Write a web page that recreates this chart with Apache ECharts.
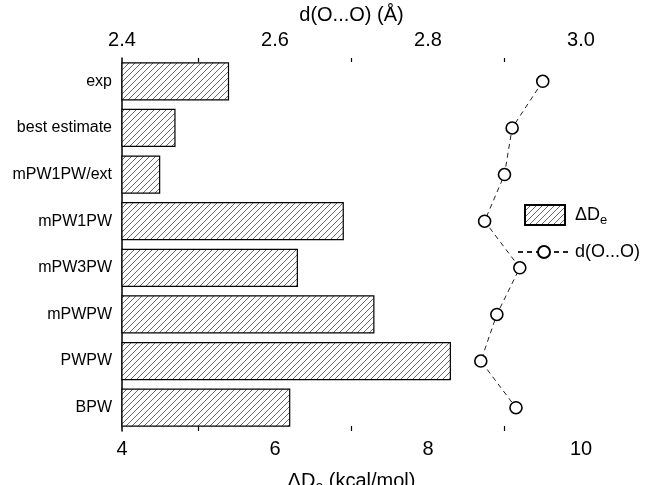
<!DOCTYPE html>
<html>
<head>
<meta charset="utf-8">
<script src="https://cdn.jsdelivr.net/npm/echarts@6/dist/echarts.min.js"></script>
<style>html,body{margin:0;padding:0;background:#fff}#c{width:647px;height:485px}</style>
</head>
<body>
<div id="c"></div>
<script>
var categories = ['exp', 'best estimate', 'mPW1PW/ext', 'mPW1PW', 'mPW3PW', 'mPWPW', 'PWPW', 'BPW'];
var deltaDe = [5.4, 4.7, 4.5, 6.9, 6.3, 7.3, 8.3, 6.2];
var dOO = [2.95, 2.91, 2.90, 2.874, 2.92, 2.89, 2.869, 2.915];
var bottomTicks = [4, 6, 8, 10];
var topTicks = [2.4, 2.6, 2.8, 3.0];
var seriesNames = ['ΔDe', 'd(O...O)'];

var FONT = 'Liberation Sans, Arial, Helvetica, sans-serif';

var pat = document.createElement('canvas');
pat.width = 6; pat.height = 6;
var g = pat.getContext('2d');
g.fillStyle = '#fff'; g.fillRect(0, 0, 6, 6);
g.strokeStyle = '#444'; g.lineWidth = 0.8;
g.beginPath();
g.moveTo(-1, 7); g.lineTo(7, -1);
g.moveTo(-1, 1); g.lineTo(1, -1);
g.moveTo(5, 7); g.lineTo(7, 5);
g.stroke();

var legendText = {fontFamily: FONT, fontSize: 18, color: '#000',
  rich: {a: {fontSize: 18, fontFamily: FONT}, p: {fontSize: 18, fontFamily: FONT, padding: [0, 0, 0, 5]},
         s: {fontSize: 13, fontFamily: FONT, padding: [10, 0, 0, 0]}}};
function legendFmt(n) { return n === seriesNames[0] ? '{p|ΔD}{s|e}' : '{a|d(O...O)}'; }

var chart = echarts.init(document.getElementById('c'), null, {renderer: 'canvas'});
var option = {
  animation: false,
  backgroundColor: '#fff',
  textStyle: {fontFamily: FONT, color: '#000'},
  grid: {left: 122, right: 66, top: 58, bottom: 54, containLabel: false, outerBoundsMode: 'none'},
  legend: [
    {
      orient: 'vertical', left: 519, top: 199,
      itemWidth: 40, itemHeight: 20,
      data: [{name: seriesNames[0], icon: 'rect'}],
      textStyle: legendText, formatter: legendFmt
    },
    {
      orient: 'vertical', left: 512, top: 238,
      itemWidth: 52, itemHeight: 15,
      data: [seriesNames[1]],
      textStyle: legendText, formatter: legendFmt
    }
  ],
  xAxis: [
    {
      type: 'value', position: 'bottom', min: 4, max: 10, interval: 2,
      name: '{a|ΔD}{s|e}{a| (kcal/mol)}', nameLocation: 'middle', nameGap: 37,
      nameTextStyle: {fontFamily: FONT, fontSize: 20, color: '#000',
        rich: {a: {fontSize: 20, fontFamily: FONT}, s: {fontSize: 14, fontFamily: FONT, padding: [12, 0, 0, 0]}}},
      axisLine: {lineStyle: {color: '#000', width: 1.5}},
      axisTick: {inside: true, length: 6, lineStyle: {color: '#000', width: 1.2}},
      minorTick: {show: true, splitNumber: 2, length: 5, lineStyle: {color: '#000', width: 1.2}},
      axisLabel: {fontSize: 20, color: '#000', margin: 8, fontFamily: FONT,
        formatter: function (v) { return bottomTicks.indexOf(v) >= 0 ? String(v) : ''; }},
      splitLine: {show: false}
    },
    {
      type: 'value', position: 'top', min: 2.4, max: 3.0, interval: 0.2,
      name: 'd(O...O) (Å)', nameLocation: 'middle', nameGap: 29,
      nameTextStyle: {fontFamily: FONT, fontSize: 20, color: '#000'},
      axisLine: {lineStyle: {color: '#000', width: 1.5}},
      axisTick: {inside: true, length: 7, lineStyle: {color: '#000', width: 1.2}},
      minorTick: {show: true, splitNumber: 2, length: 4, lineStyle: {color: '#000', width: 1.2}},
      axisLabel: {fontSize: 20, color: '#000', margin: 8, fontFamily: FONT,
        formatter: function (v) { return v.toFixed(1); }},
      splitLine: {show: false}
    }
  ],
  yAxis: [
    {
      type: 'category', data: categories, inverse: true, position: 'left',
      axisLine: {lineStyle: {color: '#000', width: 1.5}},
      axisTick: {inside: false, length: 4, lineStyle: {color: '#000', width: 1.5}},
      axisLabel: {fontSize: 16, color: '#000', margin: 10, fontFamily: FONT},
      splitLine: {show: false}
    },
    {
      type: 'category', data: categories, inverse: true, position: 'left', offset: 0,
      axisLine: {show: false},
      axisTick: {inside: true, length: 4, lineStyle: {color: '#000', width: 1.5}},
      axisLabel: {show: false},
      splitLine: {show: false}
    }
  ],
  series: [
    {
      name: seriesNames[0], type: 'bar', xAxisIndex: 0, yAxisIndex: 0,
      data: deltaDe, barCategoryGap: '18%',
      itemStyle: {color: {image: pat, repeat: 'repeat'}, borderColor: '#000', borderWidth: 1.2},
      z: 2
    },
    {
      name: seriesNames[1], type: 'line', xAxisIndex: 1, yAxisIndex: 0,
      data: dOO, symbol: 'circle', symbolSize: 12,
      itemStyle: {color: '#fff', borderColor: '#000', borderWidth: 1.6},
      lineStyle: {color: '#222', width: 1, type: [5, 4]},
      z: 3
    }
  ]
};
chart.setOption(option);
</script>
</body>
</html>
